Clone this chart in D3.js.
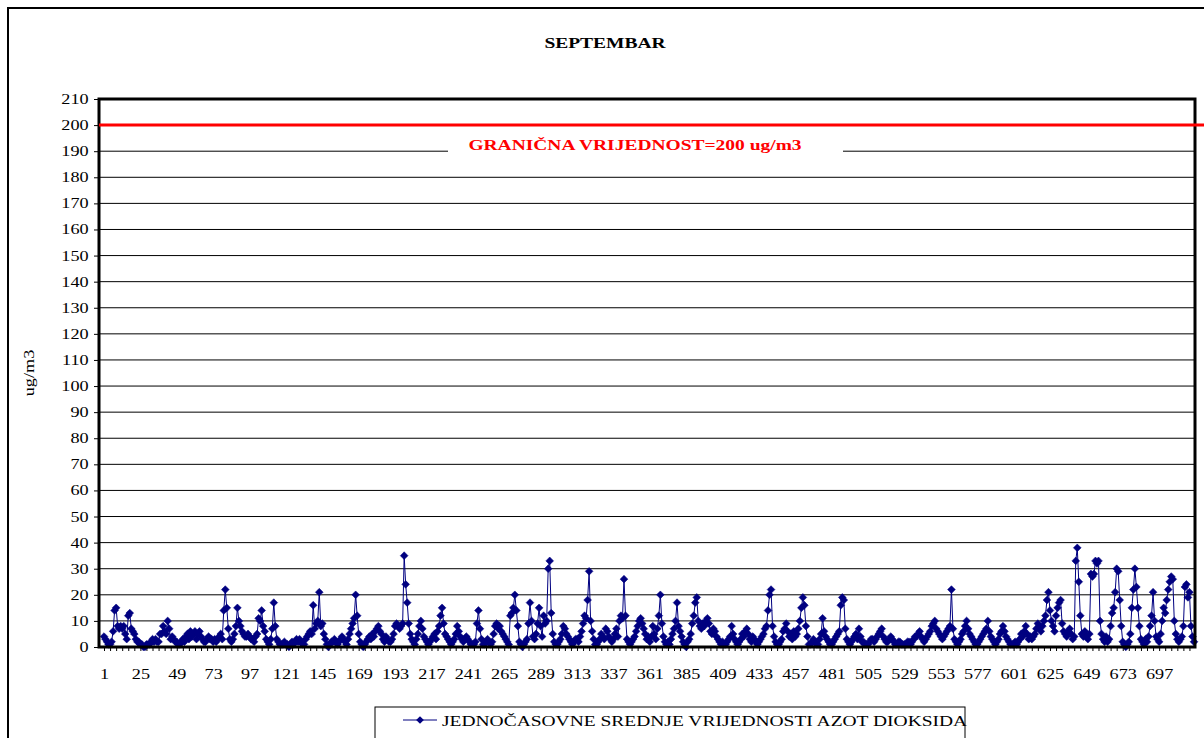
<!DOCTYPE html>
<html>
<head>
<meta charset="utf-8">
<script src="https://cdn.jsdelivr.net/npm/d3@7"></script>
<style>
  body { margin: 0; background: #fff; }
  svg { display: block; }
</style>
</head>
<body>
<div id="chart"></div>
<script>
// satne vrijednosti NO2, septembar (24 sata x 30 dana)
const hourlyByDay = [
  [4,3,2,1,1,2,6,14,15,8,7,8,7,8,5,3,12,13,7,6,5,3,2,2],
  [1,1,0,0,1,1,1,2,3,2,3,2,2,5,5,8,6,5,10,7,3,4,3,2],
  [2,1,1,2,3,2,4,5,3,6,4,5,6,3,5,6,4,3,2,2,3,4,3,3],
  [2,3,2,3,4,5,3,14,22,15,7,3,2,3,5,8,15,10,8,6,5,4,4,5],
  [4,3,3,2,4,5,11,10,14,8,6,3,2,1,3,7,17,8,3,2,1,1,1,2],
  [1,1,0,1,2,1,2,3,2,3,2,1,1,3,4,5,6,5,16,7,9,10,21,8],
  [9,5,3,1,0,1,2,2,3,2,1,2,3,4,3,2,1,3,5,7,9,11,20,12],
  [5,2,1,0,1,2,3,4,3,5,4,6,7,8,6,5,3,2,4,3,2,2,3,5],
  [8,9,8,7,8,9,35,24,17,9,5,3,2,1,3,5,8,10,7,4,3,2,1,2],
  [3,4,5,3,6,8,12,15,9,5,4,3,2,1,2,3,5,8,6,4,3,2,3,4],
  [3,2,1,1,1,2,9,14,7,3,1,1,2,3,2,1,2,5,8,9,7,8,6,5],
  [4,3,2,1,12,13,15,20,14,8,2,1,0,1,2,3,9,17,10,4,3,5,9,15],
  [8,4,12,9,10,30,33,13,5,2,1,1,2,3,5,8,7,5,4,3,2,1,2,3],
  [3,2,4,6,9,12,11,18,29,10,6,3,1,1,2,3,5,4,3,7,6,4,3,2],
  [3,5,7,4,10,12,11,26,12,3,2,1,2,3,4,6,8,10,11,9,7,5,3,4],
  [2,4,8,5,3,7,12,20,9,4,2,1,2,1,3,5,7,10,17,8,6,4,2,1],
  [0,2,3,5,9,12,17,19,10,8,7,9,8,10,11,9,6,5,7,6,4,3,2,1],
  [2,1,1,2,3,4,8,5,3,2,1,2,3,5,4,6,7,5,3,2,4,3,2,1],
  [2,3,4,5,7,8,14,20,22,8,4,2,1,1,2,3,6,7,9,6,4,5,3,6],
  [4,5,7,10,15,19,16,8,4,1,1,2,3,2,1,1,3,5,11,6,4,3,2,1],
  [1,2,3,4,5,6,16,19,18,7,3,2,1,2,3,4,5,3,7,4,2,2,1,1],
  [1,2,3,3,2,3,4,5,6,7,4,3,2,2,3,4,3,2,1,1,2,2,1,1],
  [1,1,2,2,1,2,3,4,4,5,6,4,3,2,3,4,5,6,8,9,10,7,6,5],
  [4,3,4,5,6,7,8,22,7,3,2,1,2,3,5,6,8,10,7,5,4,3,2,1],
  [1,2,3,4,5,6,7,10,6,4,3,2,1,2,3,5,6,8,6,4,3,2,1,1],
  [1,2,1,2,3,5,4,6,8,5,3,4,3,4,5,7,9,8,6,8,10,12,18,21],
  [14,10,8,6,12,15,17,18,9,6,5,4,6,7,5,3,4,33,38,25,12,5,4,6],
  [4,3,5,28,27,28,33,32,33,10,5,3,2,4,2,3,8,13,15,21,30,29,18,8],
  [2,1,0,1,2,5,15,22,30,23,15,8,3,2,1,3,2,4,8,12,21,10,4,3],
  [2,5,10,15,13,18,22,25,27,26,10,5,3,2,3,4,8,23,24,19,21,8,4,2]
];
const xTickLabels = [1,25,49,73,97,121,145,169,193,217,241,265,289,313,337,361,385,409,433,457,481,505,529,553,577,601,625,649,673,697];
const yTickValues = [0,10,20,30,40,50,60,70,80,90,100,110,120,130,140,150,160,170,180,190,200,210];
const limitValue = 200;
const chartTitle = "SEPTEMBAR";
const limitLabel = "GRANIČNA VRIJEDNOST=200 ug/m3";
const seriesName = "JEDNOČASOVNE SREDNJE VRIJEDNOSTI AZOT DIOKSIDA";
const yAxisLabel = "ug/m3";

const values = hourlyByDay.flat();
const data = values.map(function (v, i) { return { hour: i + 1, value: v }; });

const width = 1204;
const height = 738;
const plot = { left: 99, top: 99, right: 1195, bottom: 647 };
const navy = "#000080";
const serif = "Liberation Serif, Times New Roman, serif";
const stretch = 1.3; // tekst u originalu je razvucen horizontalno

const svg = d3.select("#chart").append("svg")
  .attr("width", width)
  .attr("height", height);

// okvir cijelog grafika
svg.append("rect")
  .attr("x", 8).attr("y", 8)
  .attr("width", 1220).attr("height", 760)
  .attr("fill", "#fff")
  .attr("stroke", "#000")
  .attr("stroke-width", 2);

svg.append("text")
  .attr("transform", "translate(605,48) scale(" + stretch + ",1)")
  .attr("text-anchor", "middle")
  .attr("font-family", serif)
  .attr("font-size", 15)
  .attr("font-weight", "bold")
  .text(chartTitle);

const xScale = d3.scaleLinear()
  .domain([1, values.length])
  .range([plot.left + 5, plot.right - 1]);

const yScale = d3.scaleLinear()
  .domain([0, 210])
  .range([plot.bottom, plot.top]);

// mreza
svg.append("g")
  .selectAll("line")
  .data(yTickValues)
  .enter()
  .append("line")
  .attr("x1", plot.left).attr("x2", plot.right)
  .attr("y1", function (d) { return yScale(d); })
  .attr("y2", function (d) { return yScale(d); })
  .attr("stroke", "#000")
  .attr("stroke-width", 1);

// Y osa
const axisY = d3.axisLeft(yScale).tickValues(yTickValues).tickSize(5).tickSizeOuter(0);
const gy = svg.append("g")
  .attr("transform", "translate(" + plot.left + ",0)")
  .call(axisY);
gy.select(".domain").remove();
gy.selectAll("text")
  .attr("font-family", serif)
  .attr("font-size", 14)
  .attr("fill", "#000")
  .attr("x", -8)
  .attr("transform", "scale(" + stretch + ",1)");
gy.selectAll("line").attr("stroke", "#000");

// X osa
const tickHours = d3.range(1, values.length + 1, 4);
const axisX = d3.axisBottom(xScale).tickValues(tickHours).tickSize(4).tickSizeOuter(0)
  .tickFormat(function (d) { return xTickLabels.indexOf(d) >= 0 ? d : ""; });
const gx = svg.append("g")
  .attr("transform", "translate(0," + plot.bottom + ")")
  .call(axisX);
gx.select(".domain").remove();
gx.selectAll("text")
  .attr("font-family", serif)
  .attr("font-size", 14)
  .attr("fill", "#000")
  .attr("y", 22)
  .attr("transform", "scale(" + stretch + ",1)");
gx.selectAll("line").attr("stroke", "#000");

svg.append("text")
  .attr("transform", "translate(34," + ((plot.top + plot.bottom) / 2) + ") rotate(-90) scale(" + stretch + ",1)")
  .attr("text-anchor", "middle")
  .attr("font-family", serif)
  .attr("font-size", 14)
  .text(yAxisLabel);

// granicna vrijednost
svg.append("rect")
  .attr("x", 448).attr("y", 136)
  .attr("width", 395).attr("height", 22)
  .attr("fill", "#fff");
svg.append("text")
  .attr("transform", "translate(635,150) scale(" + stretch + ",1)")
  .attr("text-anchor", "middle")
  .attr("font-family", serif)
  .attr("font-size", 15)
  .attr("font-weight", "bold")
  .attr("fill", "#ff0000")
  .text(limitLabel);

// linija serije
const line = d3.line()
  .x(function (d) { return xScale(d.hour); })
  .y(function (d) { return yScale(d.value); });

svg.append("path")
  .datum(data)
  .attr("d", line)
  .attr("fill", "none")
  .attr("stroke", navy)
  .attr("stroke-width", 1);

const diamond = d3.symbol().type(d3.symbolSquare).size(30);
svg.append("g")
  .selectAll("path")
  .data(data)
  .enter()
  .append("path")
  .attr("d", diamond)
  .attr("transform", function (d) {
    return "translate(" + xScale(d.hour) + "," + yScale(d.value) + ") rotate(45)";
  })
  .attr("fill", navy)
  .attr("stroke", navy)
  .attr("stroke-width", 0.5);

// okvir plot podrucja
svg.append("rect")
  .attr("x", plot.left).attr("y", plot.top)
  .attr("width", plot.right - plot.left).attr("height", plot.bottom - plot.top)
  .attr("fill", "none")
  .attr("stroke", "#000")
  .attr("stroke-width", 3);

svg.append("line")
  .attr("x1", plot.left).attr("x2", width)
  .attr("y1", yScale(limitValue)).attr("y2", yScale(limitValue))
  .attr("stroke", "#ff0000")
  .attr("stroke-width", 3);

// legenda
const legend = svg.append("g");
legend.append("rect")
  .attr("x", 375).attr("y", 707)
  .attr("width", 590).attr("height", 40)
  .attr("fill", "#fff")
  .attr("stroke", "#000")
  .attr("stroke-width", 1);
legend.append("line")
  .attr("x1", 403).attr("x2", 437)
  .attr("y1", 720).attr("y2", 720)
  .attr("stroke", navy)
  .attr("stroke-width", 1);
legend.append("path")
  .attr("d", diamond)
  .attr("transform", "translate(420,720) rotate(45)")
  .attr("fill", navy);
legend.append("text")
  .attr("transform", "translate(442,726) scale(" + stretch + ",1)")
  .attr("font-family", serif)
  .attr("font-size", 15)
  .text(seriesName);
</script>
</body>
</html>
